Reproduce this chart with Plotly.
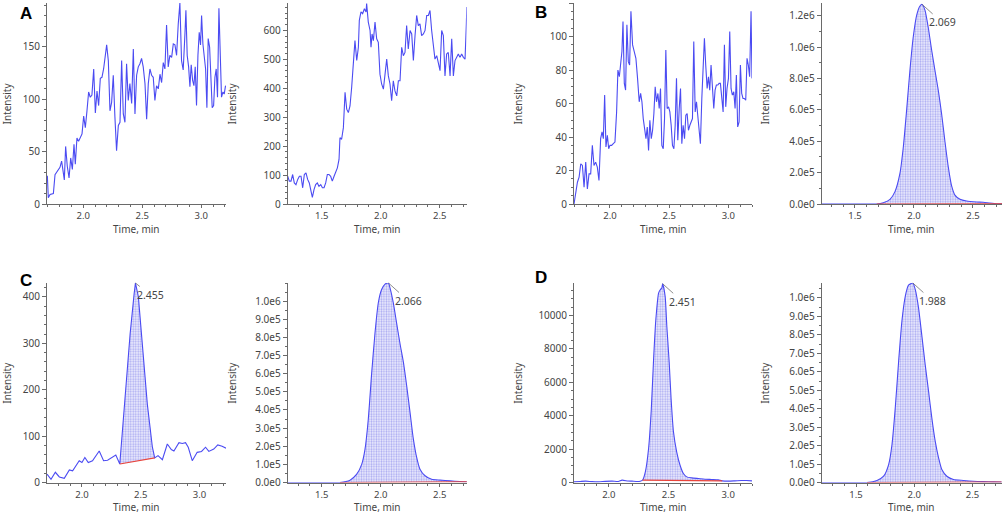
import plotly.graph_objects as go

# ---------------- data ----------------
A1_time = [1.695,1.703,1.718,1.746,1.760,1.788,1.802,1.816,1.831,1.839,
           1.850,1.864,1.879,1.893,1.907,1.921,1.932,1.946,1.960,1.975,
           1.989,2.003,2.017,2.031,2.045,2.059,2.073,2.088,2.102,2.116,
           2.130,2.144,2.158,2.172,2.186,2.198,2.212,2.226,2.240,2.254,
           2.268,2.282,2.297,2.311,2.325,2.339,2.353,2.367,2.381,2.395,
           2.410,2.424,2.438,2.452,2.466,2.480,2.494,2.508,2.523,2.537,
           2.551,2.565,2.579,2.593,2.607,2.621,2.636,2.650,2.664,2.678,
           2.692,2.706,2.720,2.734,2.749,2.763,2.777,2.791,2.805,2.819,
           2.833,2.847,2.862,2.870,2.881,2.893,2.904,2.915,2.927,2.938,
           2.949,2.960,2.972,2.983,2.994,3.003,3.014,3.025,3.037,3.048,
           3.059,3.071,3.082,3.093,3.105,3.116,3.127,3.138,3.150,3.161,
           3.172,3.184,3.195,3.206]
A1_int = [27,6,9,10,28,33,35,41,31,23,
          55,36,25,44,33,57,38,63,60,63,
          67,84,73,89,107,102,104,129,87,108,
          94,120,121,129,142,152,137,89,97,123,
          83,51,75,78,137,86,78,134,99,115,
          96,148,86,123,131,134,139,131,115,81,
          115,129,123,121,99,113,110,124,116,135,
          129,171,131,142,140,153,152,142,172,192,
          137,128,163,185,142,131,112,133,118,113,
          131,94,142,164,152,180,153,140,129,92,
          158,150,121,92,94,121,129,102,187,137,
          102,107,105,113]

A2_time = [1.212,1.226,1.240,1.254,1.268,1.282,1.297,1.311,1.325,1.339,
           1.353,1.367,1.381,1.395,1.410,1.421,1.435,1.449,1.463,1.477,
           1.492,1.506,1.520,1.534,1.548,1.562,1.576,1.590,1.605,1.619,
           1.633,1.647,1.655,1.669,1.684,1.698,1.712,1.726,1.740,1.754,
           1.768,1.782,1.797,1.811,1.819,1.833,1.847,1.862,1.876,1.881,
           1.895,1.910,1.918,1.927,1.938,1.952,1.966,1.980,1.994,2.008,
           2.023,2.037,2.051,2.065,2.079,2.093,2.107,2.121,2.136,2.150,
           2.164,2.178,2.192,2.206,2.220,2.234,2.249,2.263,2.277,2.291,
           2.305,2.319,2.333,2.347,2.362,2.376,2.390,2.404,2.418,2.432,
           2.446,2.460,2.475,2.489,2.503,2.517,2.531,2.545,2.559,2.573,
           2.588,2.602,2.616,2.630,2.644,2.658,2.672,2.686,2.701,2.715,
           2.726,2.730]
A2_int = [96,79,79,102,73,67,85,96,96,56,
          102,108,85,73,44,23,50,67,73,61,
          67,56,56,73,102,102,96,79,96,108,
          125,154,229,224,264,386,328,316,339,403,
          501,565,496,542,635,664,658,675,664,693,
          629,600,542,588,565,629,571,559,449,415,
          397,449,501,443,415,357,426,391,374,426,
          426,542,513,524,617,536,600,588,496,582,
          652,617,623,582,588,600,652,652,669,600,
          553,501,513,490,461,600,582,443,519,524,
          443,571,443,496,507,519,507,519,507,501,
          623,681]

B1_time = [1.696,1.711,1.725,1.739,1.753,1.767,1.781,1.795,1.809,1.823,
           1.837,1.851,1.865,1.879,1.893,1.907,1.921,1.933,1.944,1.955,
           1.966,1.978,1.989,2.000,2.014,2.028,2.042,2.056,2.067,2.079,
           2.090,2.101,2.110,2.121,2.132,2.143,2.155,2.166,2.177,2.191,
           2.205,2.219,2.233,2.247,2.259,2.270,2.281,2.292,2.304,2.315,
           2.326,2.337,2.349,2.360,2.371,2.382,2.393,2.405,2.416,2.427,
           2.438,2.450,2.461,2.472,2.483,2.495,2.506,2.517,2.528,2.540,
           2.551,2.562,2.573,2.585,2.596,2.607,2.618,2.630,2.641,2.652,
           2.663,2.675,2.686,2.697,2.708,2.720,2.731,2.742,2.753,2.764,
           2.776,2.787,2.798,2.809,2.821,2.832,2.843,2.854,2.866,2.877,
           2.888,2.899,2.911,2.922,2.933,2.944,2.956,2.967,2.978,2.989,
           3.001,3.012,3.023,3.034,3.046,3.057,3.068,3.079,3.091,3.102,
           3.113,3.124,3.135,3.147,3.158,3.169,3.180,3.192,3.200]
B1_int = [0,6,13,16,24,23,10,25,9,18,
          18,35,23,25,22,14,39,43,39,65,
          34,41,33,35,35,36,37,55,80,76,
          83,91,109,72,68,107,85,83,115,95,
          91,87,75,61,66,61,51,46,39,46,
          32,50,39,44,54,70,61,66,57,69,
          35,33,51,92,57,58,55,47,35,33,
          47,75,38,57,69,36,47,39,53,54,
          44,47,49,51,97,55,61,51,44,36,
          63,80,99,83,69,76,68,83,67,57,
          68,71,71,72,72,63,55,95,58,69,
          75,103,69,65,67,57,77,46,49,83,
          66,63,63,62,87,83,76,115,75]

B2_time = [1.218,1.300,1.400,1.500,1.600,1.684,1.740,1.797,1.839,1.881,1.910,1.938,1.966,
           1.994,2.023,2.051,2.069,2.093,2.121,2.150,2.178,2.206,2.234,2.263,2.291,2.319,
           2.347,2.390,2.446,2.531,2.588,2.644,2.701,2.749]
B2_int = [0,0,0,0,0,0,8500,30000,79000,195000,365000,600000,854000,
          1066000,1204000,1262000,1272000,1236000,1125000,980000,850000,725000,575000,395000,235000,115000,
          57000,30000,19000,13000,11000,6000,2000,1500]

C1_time = [1.703,1.737,1.774,1.808,1.850,1.893,1.921,1.977,2.000,2.025,2.054,2.090,2.147,2.184,2.218,
           2.251,2.288,2.322,2.364,2.410,2.444,2.455,2.480,2.514,2.556,2.599,2.619,2.647,2.684,2.726,
           2.760,2.782,2.825,2.853,2.881,2.904,2.938,2.980,3.017,3.051,3.079,3.121,3.155,3.192,3.225]
C1_int = [18,7,22,12,9,27,25,47,43,54,43,47,68,47,48,
          54,59,40,177,321,407,430,400,299,169,76,53,58,49,83,
          71,68,86,84,86,76,47,65,67,76,67,72,81,78,74]

C2_time = [1.203,1.300,1.400,1.500,1.600,1.655,1.740,1.797,1.839,1.867,1.895,1.924,1.952,1.980,2.008,
           2.037,2.066,2.079,2.107,2.136,2.164,2.192,2.220,2.249,2.277,2.305,2.333,2.376,2.432,2.503,
           2.588,2.672,2.735]
C2_int = [0,0,0,0,0,0,13000,46000,100000,183000,349000,606000,826000,991000,1064000,
          1094000,1100000,1073000,990000,875000,765000,665000,535000,385000,239000,138000,73000,37000,18000,13000,
          9000,5500,4000]

D1_time = [1.708,1.760,1.806,1.860,1.917,1.970,2.028,2.080,2.111,2.160,2.194,2.240,2.264,2.283,2.306,
           2.333,2.356,2.375,2.394,2.417,2.431,2.444,2.451,2.472,2.486,2.506,2.522,2.542,2.569,2.597,
           2.625,2.653,2.694,2.750,2.806,2.861,2.917,2.950,3.000,3.056,3.111,3.153,3.200]
D1_int = [40,60,80,50,40,70,80,60,140,90,80,60,80,140,635,
          2024,4405,7381,9762,11349,11548,11647,11905,11151,9365,7183,5000,3016,1825,1032,
          536,337,278,238,198,179,159,99,80,99,119,119,99]

D2_time = [1.203,1.300,1.400,1.500,1.594,1.680,1.737,1.780,1.809,1.837,1.866,1.894,1.923,1.951,1.988,
           2.009,2.037,2.066,2.094,2.123,2.151,2.180,2.209,2.237,2.280,2.337,2.423,2.509,2.594,2.680,2.750]
D2_int = [0,0,0,0,0,11000,34000,97000,206000,404000,657000,874000,1009000,1069000,1081000,
          1045000,946000,792000,639000,495000,350000,224000,134000,70000,34000,16000,11000,7000,5000,3600,3000]

# integration windows (start, end of red baseline) and labelled retention times
B2_window = [1.684, 2.749]
C1_window = [2.322, 2.619]
C2_window = [1.655, 2.735]
D1_window = [2.283, 2.950]
D2_window = [1.594, 2.750]
peak_labels = {"B2": "2.069", "C1": "2.455", "C2": "2.066", "D1": "2.451", "D2": "1.988"}

# axis ticks
x_ticks = [1.5, 2.0, 2.5, 3.0]
A1_yticks = [0, 50, 100, 150]
A2_yticks = [0, 100, 200, 300, 400, 500, 600]
B1_yticks = [0, 20, 40, 60, 80, 100, 120]
B2_yticks = [0, 2e5, 4e5, 6e5, 8e5, 1.0e6, 1.2e6]
B2_yticktext = ["0.0e0", "2.0e5", "4.0e5", "6.0e5", "8.0e5", "1.0e6", "1.2e6"]
C1_yticks = [0, 100, 200, 300, 400]
C2_yticks = [0, 1e5, 2e5, 3e5, 4e5, 5e5, 6e5, 7e5, 8e5, 9e5, 1e6]
C2_yticktext = ["0.0e0", "1.0e5", "2.0e5", "3.0e5", "4.0e5", "5.0e5", "6.0e5", "7.0e5", "8.0e5", "9.0e5", "1.0e6"]
D1_yticks = [0, 2000, 4000, 6000, 8000, 10000]
D2_yticks = C2_yticks
D2_yticktext = C2_yticktext

panel_letters = ["A", "B", "C", "D"]
x_title = "Time, min"
y_title = "Intensity"

# ---------------- styling / layout ----------------
W, H = 1004, 514
BLUE = '#4b4bf2'
RED = '#e8453c'
AXC = '#6a6a6a'
TXT = '#454545'
FONT = 'Noto Sans'

col_px = [(47, 226), (287.7, 466.7), (574, 752), (821.7, 1002)]
row_px = [(3, 204), (283, 482.5)]
ytitle_x = [7, 232, 518, 765]
xtitle_y = [229.5, 506.5]

panels = [
    dict(key="A1", t=A1_time, v=A1_int, xr=[1.692, 3.21], yr=[0, 192], yt=A1_yticks, ytt=None, ym=10, r=0, c=0, win=None, shape='linear'),
    dict(key="A2", t=A2_time, v=A2_int, xr=[1.212, 2.729], yr=[0, 695], yt=A2_yticks, ytt=None, ym=20, r=0, c=1, win=None, shape='linear'),
    dict(key="B1", t=B1_time, v=B1_int, xr=[1.696, 3.20], yr=[0, 120], yt=B1_yticks, ytt=None, ym=5, r=0, c=2, win=None, shape='linear'),
    dict(key="B2", t=B2_time, v=B2_int, xr=[1.218, 2.746], yr=[0, 1.281e6], yt=B2_yticks, ytt=B2_yticktext, ym=1e5, r=0, c=3, win=B2_window, shape='spline'),
    dict(key="C1", t=C1_time, v=C1_int, xr=[1.703, 3.225], yr=[0, 430], yt=C1_yticks, ytt=None, ym=20, r=1, c=0, win=C1_window, shape='linear'),
    dict(key="C2", t=C2_time, v=C2_int, xr=[1.212, 2.729], yr=[0, 1.10e6], yt=C2_yticks, ytt=C2_yticktext, ym=5e4, r=1, c=1, win=C2_window, shape='spline'),
    dict(key="D1", t=D1_time, v=D1_int, xr=[1.708, 3.20], yr=[0, 11950], yt=D1_yticks, ytt=None, ym=500, r=1, c=2, win=D1_window, shape='spline'),
    dict(key="D2", t=D2_time, v=D2_int, xr=[1.205, 2.754], yr=[0, 1.081e6], yt=D2_yticks, ytt=D2_yticktext, ym=5e4, r=1, c=3, win=D2_window, shape='spline'),
]

fig = go.Figure()
layout = dict(template='none', width=W, height=H, margin=dict(l=0, r=0, t=0, b=0, pad=0),
              paper_bgcolor='white', plot_bgcolor='white', showlegend=False,
              font=dict(family=FONT, size=10, color=TXT))
annotations = []

for i, p in enumerate(panels):
    n = i + 1
    xa = 'x' if n == 1 else f'x{n}'
    ya = 'y' if n == 1 else f'y{n}'
    x0, x1 = col_px[p['c']]
    y0, y1 = row_px[p['r']]
    t, v = p['t'], p['v']

    if p['win'] is not None:
        ws, we = p['win']
        idx = [k for k in range(len(t)) if ws <= t[k] <= we]
        ft = [t[k] for k in idx]
        fv = [v[k] for k in idx]
        fig.add_trace(go.Scatter(
            x=ft, y=fv, xaxis=xa, yaxis=ya, mode='lines', fill='toself',
            line=dict(width=0, color=BLUE, shape=p['shape'], smoothing=0.6),
            fillcolor='rgba(215,215,248,1)',
            fillpattern=dict(shape='.', fgcolor='rgba(130,130,235,0.65)', bgcolor='rgba(240,240,253,1)',
                             size=2.5, solidity=0.45),
            hoverinfo='skip'))

    fig.add_trace(go.Scatter(x=t, y=v, xaxis=xa, yaxis=ya, mode='lines',
                             line=dict(color=BLUE, width=1.1, shape=p['shape'], smoothing=0.6)))

    if p['win'] is not None:
        fig.add_trace(go.Scatter(x=[ft[0], ft[-1]], y=[fv[0], fv[-1]], xaxis=xa, yaxis=ya,
                                 mode='lines', line=dict(color=RED, width=1.1)))
        kmax = max(range(len(t)), key=lambda k: v[k])
        annotations.append(dict(
            x=t[kmax], y=v[kmax], xref=xa, yref=ya, text=peak_labels[p['key']],
            showarrow=True, arrowhead=0, arrowwidth=0.8, arrowcolor='#707070',
            ax=20 if p['key'] != 'C1' else 15, ay=18 if p['key'] != 'C1' else 12,
            font=dict(size=10.5, color=TXT, family=FONT), standoff=0))

    xkey = 'xaxis' if n == 1 else f'xaxis{n}'
    ykey = 'yaxis' if n == 1 else f'yaxis{n}'
    layout[xkey] = dict(
        domain=[x0 / W, x1 / W], anchor=ya, range=p['xr'], automargin=False,
        showline=True, linecolor=AXC, linewidth=1, showgrid=False, zeroline=False,
        ticks='outside', ticklen=3, tickcolor=AXC, tickvals=x_ticks, tickformat='.1f',
        tickfont=dict(size=9.5, color=TXT),
        minor=dict(dtick=0.1, tick0=0, ticks='outside', ticklen=2, tickcolor=AXC, showgrid=False))
    ytext = p['ytt'] if p['ytt'] is not None else [str(val) for val in p['yt']]
    layout[ykey] = dict(
        domain=[1 - y1 / H, 1 - y0 / H], anchor=xa, range=p['yr'], automargin=False,
        showline=True, linecolor=AXC, linewidth=1, showgrid=False, zeroline=False,
        ticks='outside', ticklen=4, tickcolor=AXC, tickvals=p['yt'], ticktext=ytext,
        tickfont=dict(size=10, color=TXT),
        minor=dict(dtick=p['ym'], tick0=0, ticks='outside', ticklen=2, tickcolor=AXC, showgrid=False))

    # axis titles
    annotations.append(dict(x=(x0 + x1) / 2 / W, y=1 - xtitle_y[p['r']] / H, xref='paper', yref='paper',
                            text=x_title, showarrow=False, xanchor='center', yanchor='middle',
                            font=dict(size=10, color=TXT, family=FONT)))
    annotations.append(dict(x=ytitle_x[p['c']] / W, y=1 - (y0 + y1) / 2 / H, xref='paper', yref='paper',
                            text=y_title, showarrow=False, xanchor='center', yanchor='middle', textangle=-90,
                            font=dict(size=10, color=TXT, family=FONT)))

# panel letters
letter_pos = [(26, 13), (541, 12), (26, 280), (541, 277)]
for L, (lx, ly) in zip(panel_letters, letter_pos):
    annotations.append(dict(x=lx / W, y=1 - ly / H, xref='paper', yref='paper', text=f'<b>{L}</b>',
                            showarrow=False, font=dict(family='Liberation Sans', size=17, color='black'),
                            xanchor='center', yanchor='middle'))

layout['annotations'] = annotations
fig.update_layout(**layout)
# remove the browser's default 8px page margin so the figure sits at the window's corner
fig.write_html("out.html", config={'displayModeBar': False},
               post_script="document.body.style.margin='0px';document.body.style.overflow='hidden';")
